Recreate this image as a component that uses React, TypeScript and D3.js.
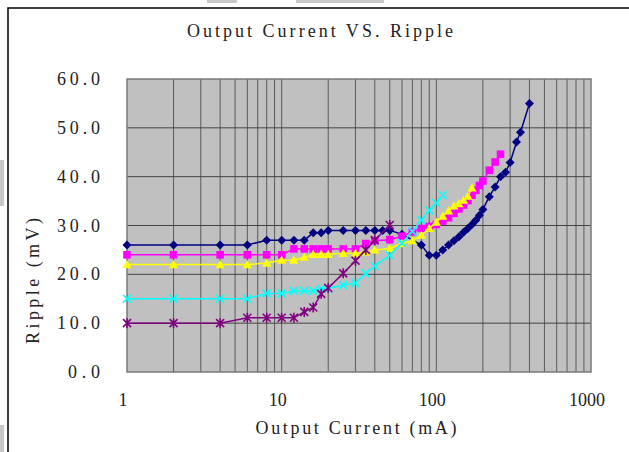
// App.tsx
import React, { useEffect, useRef } from "react";
import * as d3 from "d3";

// Navy diamonds
const navyX = [1, 2, 4, 6, 8, 10, 12, 14, 16, 18, 20, 25, 30, 35, 40, 45, 50, 60, 80, 90, 100, 110, 120, 130, 140, 150, 160, 170, 180, 190, 200, 220, 240, 260, 280, 300, 330, 350, 400];
const navyY = [26, 26, 26, 26, 27, 27, 27, 27, 28.5, 28.5, 29, 29, 29, 29, 29, 29, 29, 28.2, 26, 23.9, 23.9, 25, 26, 26.9, 27.7, 28.6, 29.4, 30.2, 31.1, 32.1, 33.3, 35.9, 37.9, 40, 40.9, 42.9, 47.1, 49.1, 55];

// Magenta squares
const magentaX = [1, 2, 4, 6, 8, 10, 12, 14, 16, 18, 20, 25, 30, 35, 40, 50, 60, 70, 80, 90, 100, 110, 120, 130, 140, 150, 160, 170, 180, 190, 200, 220, 240, 260];
const magentaY = [24, 24, 24, 24, 24, 24, 25.2, 25.2, 25.2, 25.2, 25.2, 25.2, 25.2, 26.3, 26.9, 27.1, 27.8, 28.7, 29.4, 29.8, 30.2, 30.9, 31.6, 32.5, 33.4, 34.2, 35.1, 36.2, 37.2, 38.2, 39.1, 41.3, 43.0, 44.6];

// Yellow triangles
const yellowX = [1, 2, 4, 6, 8, 10, 12, 14, 16, 18, 20, 25, 30, 35, 40, 50, 60, 70, 80, 90, 100, 110, 120, 130, 140, 150, 160, 170];
const yellowY = [22, 22, 22, 22, 22.3, 22.9, 22.9, 23.5, 24.1, 24.1, 24.1, 24.3, 24.3, 24.6, 25, 25.3, 26.3, 26.9, 28, 29.4, 30.7, 31.9, 33, 34, 34.5, 35.2, 36, 37.7];

// Cyan crosses
const cyanX = [1, 2, 4, 6, 8, 10, 12, 14, 16, 18, 20, 25, 30, 35, 40, 50, 60, 70, 80, 90, 100, 110];
const cyanY = [15, 15, 15, 15, 16.1, 16.1, 16.6, 16.6, 16.6, 17.1, 17.1, 17.8, 18.2, 20.2, 21.7, 23.9, 26.4, 28.8, 31.1, 33.1, 34.6, 36.2];

// Purple stars
const purpleX = [1, 2, 4, 6, 8, 10, 12, 14, 16, 18, 20, 25, 30, 35, 40, 50];
const purpleY = [10, 10, 10, 11.1, 11.1, 11.1, 11.1, 12.3, 13.2, 16, 17.2, 20.2, 22.8, 25, 27, 30.1];

const xTicks = [1, 10, 100, 1000];
const yTicks = [0, 10, 20, 30, 40, 50, 60];

const chartTitle = "Output Current VS. Ripple";
const xTitle = "Output Current (mA)";
const yTitle = "Ripple (mV)";

const markers = {
  diamond: "M0,-4.5L4.5,0L0,4.5L-4.5,0Z",
  square: "M-3.8,-3.8H3.8V3.8H-3.8Z",
  triangle: "M0,-4.6L4.6,3.6L-4.6,3.6Z",
  cross: "M-4,-4L4,4M-4,4L4,-4",
  star: "M-4,-4L4,4M-4,4L4,-4M0,-5V5",
};

const App = () => {
  const ref = useRef(null);

  useEffect(() => {
    const W = 629;
    const H = 452;
    const plot = { left: 127, right: 591, top: 79, bottom: 372 };
    const font = "'Liberation Serif', 'DejaVu Serif', serif";

    const svg = d3.select(ref.current);
    svg.selectAll("*").remove();
    svg.attr("width", W).attr("height", H);

    svg.append("rect").attr("width", W).attr("height", H).attr("fill", "#fff");

    // scan leftovers at the picture edges
    svg.append("rect").attr("x", 0).attr("y", 160).attr("width", 4).attr("height", 46).attr("fill", "#c8c8c8");
    svg.append("rect").attr("x", 0).attr("y", 425).attr("width", 4).attr("height", 27).attr("fill", "#c8c8c8");
    svg.append("rect").attr("x", 207).attr("y", 0).attr("width", 30).attr("height", 3).attr("fill", "#c8c8c8");
    svg.append("rect").attr("x", 296).attr("y", 0).attr("width", 88).attr("height", 3).attr("fill", "#c8c8c8");

    // chart frame
    svg
      .append("rect")
      .attr("x", 8)
      .attr("y", 8)
      .attr("width", 700)
      .attr("height", 500)
      .attr("fill", "none")
      .attr("stroke", "#000")
      .attr("stroke-width", 1.5);

    const x = d3.scaleLog().domain([1, 1000]).range([plot.left, plot.right]);
    const y = d3.scaleLinear().domain([0, 60]).range([plot.bottom, plot.top]);

    // plot area
    svg
      .append("rect")
      .attr("x", plot.left)
      .attr("y", plot.top)
      .attr("width", plot.right - plot.left)
      .attr("height", plot.bottom - plot.top)
      .attr("fill", "#c0c0c0");

    // vertical log grid
    const minor = [];
    for (let p = 0; p < 3; p++) {
      for (let m = 2; m <= 10; m++) minor.push(m * Math.pow(10, p));
    }
    svg
      .append("g")
      .selectAll("line")
      .data(minor.filter((v) => v < 1000))
      .enter()
      .append("line")
      .attr("x1", (d) => x(d))
      .attr("x2", (d) => x(d))
      .attr("y1", plot.top)
      .attr("y2", plot.bottom)
      .attr("stroke", "#5a5a5a")
      .attr("stroke-width", 1);

    // horizontal grid
    svg
      .append("g")
      .selectAll("line")
      .data(yTicks.slice(1, -1))
      .enter()
      .append("line")
      .attr("x1", plot.left)
      .attr("x2", plot.right)
      .attr("y1", (d) => y(d))
      .attr("y2", (d) => y(d))
      .attr("stroke", "#444")
      .attr("stroke-width", 1);

    svg
      .append("rect")
      .attr("x", plot.left)
      .attr("y", plot.top)
      .attr("width", plot.right - plot.left)
      .attr("height", plot.bottom - plot.top)
      .attr("fill", "none")
      .attr("stroke", "#7a7a7a")
      .attr("stroke-width", 1.5);

    // series
    const series = [
      { xs: navyX, ys: navyY, color: "#000080", marker: markers.diamond, filled: true },
      { xs: magentaX, ys: magentaY, color: "#ff00ff", marker: markers.square, filled: true },
      { xs: yellowX, ys: yellowY, color: "#ffff00", marker: markers.triangle, filled: true },
      { xs: cyanX, ys: cyanY, color: "#00ffff", marker: markers.cross, filled: false },
      { xs: purpleX, ys: purpleY, color: "#800080", marker: markers.star, filled: false },
    ];

    const line = d3
      .line()
      .x((d) => x(d[0]))
      .y((d) => y(d[1]));

    series.forEach((s) => {
      const pts = s.xs.map((v, i) => [v, s.ys[i]]);
      const g = svg.append("g");
      g.append("path")
        .attr("d", line(pts))
        .attr("fill", "none")
        .attr("stroke", s.color)
        .attr("stroke-width", 1.5);
      g.selectAll("path.mk")
        .data(pts)
        .enter()
        .append("path")
        .attr("class", "mk")
        .attr("d", s.marker)
        .attr("transform", (d) => `translate(${x(d[0])},${y(d[1])})`)
        .attr("fill", s.filled ? s.color : "none")
        .attr("stroke", s.color)
        .attr("stroke-width", s.filled ? 0 : 1.6);
    });

    // y tick labels
    svg
      .append("g")
      .selectAll("text")
      .data(yTicks)
      .enter()
      .append("text")
      .attr("x", 100)
      .attr("y", (d) => y(d) + 6)
      .attr("text-anchor", "end")
      .attr("font-family", font)
      .attr("font-size", 18)
      .attr("fill", "#222")
      .attr("textLength", (d) => (d >= 10 ? 43 : 32))
      .attr("lengthAdjust", "spacing")
      .text((d) => d3.format(".1f")(d));

    // x tick labels
    svg
      .append("g")
      .selectAll("text")
      .data(xTicks)
      .enter()
      .append("text")
      .attr("x", (d) => x(d) - 4)
      .attr("y", 406)
      .attr("text-anchor", "middle")
      .attr("font-family", font)
      .attr("font-size", 18)
      .attr("fill", "#222")
      .text((d) => d);

    // titles
    svg
      .append("text")
      .attr("x", 320)
      .attr("y", 37)
      .attr("text-anchor", "middle")
      .attr("font-family", font)
      .attr("font-size", 18)
      .attr("fill", "#222")
      .attr("textLength", 266)
      .attr("lengthAdjust", "spacing")
      .text(chartTitle);

    svg
      .append("text")
      .attr("x", 356)
      .attr("y", 434)
      .attr("text-anchor", "middle")
      .attr("font-family", font)
      .attr("font-size", 18)
      .attr("fill", "#222")
      .attr("textLength", 201)
      .attr("lengthAdjust", "spacing")
      .text(xTitle);

    svg
      .append("text")
      .attr("transform", "translate(39,281) rotate(-90)")
      .attr("text-anchor", "middle")
      .attr("font-family", font)
      .attr("font-size", 18)
      .attr("fill", "#222")
      .attr("textLength", 126)
      .attr("lengthAdjust", "spacing")
      .text(yTitle);
  }, []);

  return (
    <svg
      ref={ref}
      style={{ position: "absolute", left: 0, top: 0, display: "block" }}
    ></svg>
  );
};

export default App;
